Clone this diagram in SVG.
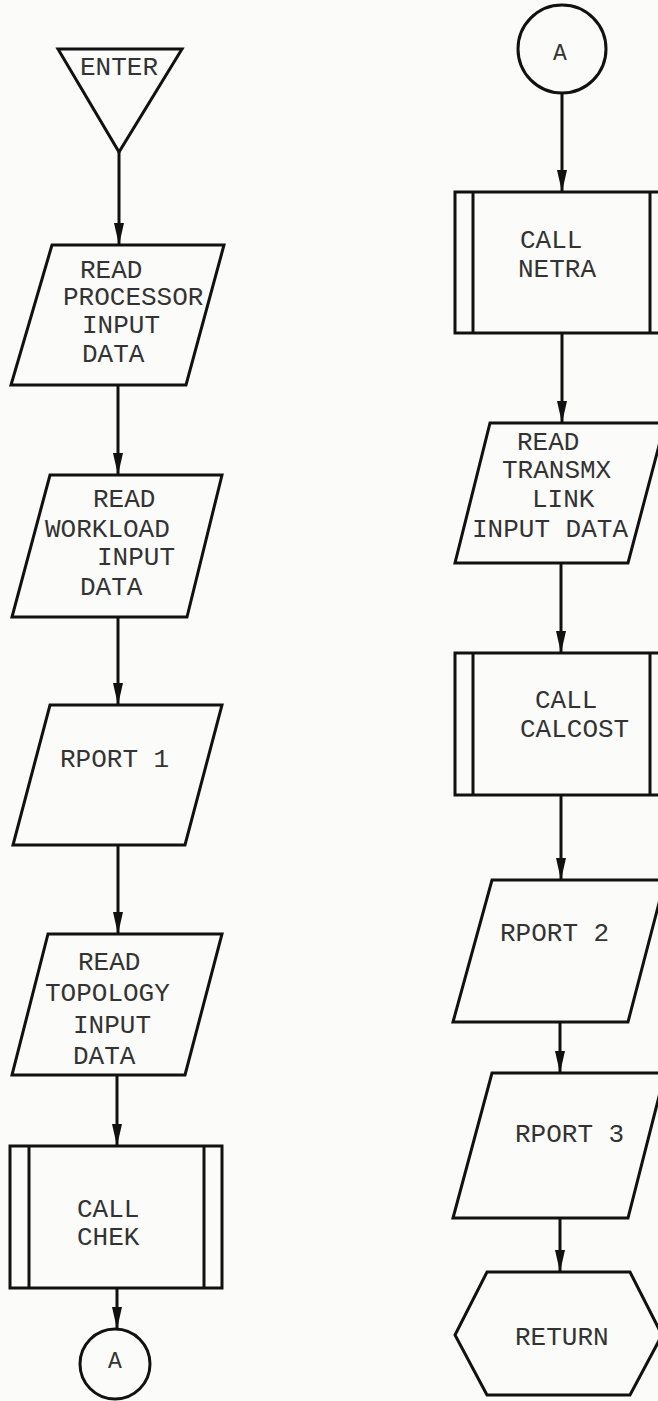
<svg xmlns="http://www.w3.org/2000/svg" width="658" height="1401" viewBox="0 0 658 1401">
  <defs>
    <style>
      .shape { fill: none; stroke: #111; stroke-width: 3; stroke-linejoin: miter; }
      .edge { fill: none; stroke: #111; stroke-width: 3; }
      .lbl { font-family: "Liberation Mono", "DejaVu Sans Mono", monospace; font-size: 26px; fill: #333; }
      .conn { font-family: "Liberation Mono", "DejaVu Sans Mono", monospace; font-size: 23px; fill: #333; text-anchor: middle; }
    </style>
    <marker id="arrow" viewBox="0 0 22 12" refX="22" refY="6" markerWidth="22" markerHeight="12" markerUnits="userSpaceOnUse" orient="auto">
      <path d="M0,1 L22,6 L0,11 z" fill="#111"/>
    </marker>
  </defs>

  <rect width="658" height="1401" fill="#fbfbf9"/>

  <!-- flow lines -->
  <g id="connectors">
    <line class="edge" x1="119" y1="152" x2="119" y2="245" marker-end="url(#arrow)"/>
    <line class="edge" x1="118" y1="385" x2="118" y2="475" marker-end="url(#arrow)"/>
    <line class="edge" x1="118" y1="617" x2="118" y2="705" marker-end="url(#arrow)"/>
    <line class="edge" x1="118" y1="845" x2="118" y2="934" marker-end="url(#arrow)"/>
    <line class="edge" x1="117" y1="1075" x2="117" y2="1146" marker-end="url(#arrow)"/>
    <line class="edge" x1="117" y1="1288" x2="117" y2="1329" marker-end="url(#arrow)"/>

    <line class="edge" x1="562" y1="93" x2="562" y2="192" marker-end="url(#arrow)"/>
    <line class="edge" x1="562" y1="333" x2="562" y2="423" marker-end="url(#arrow)"/>
    <line class="edge" x1="561" y1="563" x2="561" y2="653" marker-end="url(#arrow)"/>
    <line class="edge" x1="561" y1="795" x2="561" y2="880" marker-end="url(#arrow)"/>
    <line class="edge" x1="560" y1="1022" x2="560" y2="1073" marker-end="url(#arrow)"/>
    <line class="edge" x1="560" y1="1218" x2="560" y2="1272" marker-end="url(#arrow)"/>
  </g>

  <!-- left column -->
  <g id="enter">
    <polygon class="shape" points="58,49 182,49 119,152"/>
    <text class="lbl" x="80" y="75">ENTER</text>
  </g>

  <g id="read-processor">
    <polygon class="shape" points="52,245 224,245 186,385 11,385"/>
    <text class="lbl" x="80" y="278">READ</text>
    <text class="lbl" x="63" y="305">PROCESSOR</text>
    <text class="lbl" x="82" y="333">INPUT</text>
    <text class="lbl" x="82" y="362">DATA</text>
  </g>

  <g id="read-workload">
    <polygon class="shape" points="50,475 222,475 187,617 12,617"/>
    <text class="lbl" x="93" y="507">READ</text>
    <text class="lbl" x="45" y="537">WORKLOAD</text>
    <text class="lbl" x="97" y="565">INPUT</text>
    <text class="lbl" x="80" y="595">DATA</text>
  </g>

  <g id="rport1">
    <polygon class="shape" points="50,705 222,705 185,845 13,845"/>
    <text class="lbl" x="60" y="767">RPORT 1</text>
  </g>

  <g id="read-topology">
    <polygon class="shape" points="48,934 222,934 185,1075 12,1075"/>
    <text class="lbl" x="78" y="970">READ</text>
    <text class="lbl" x="45" y="1001">TOPOLOGY</text>
    <text class="lbl" x="73" y="1033">INPUT</text>
    <text class="lbl" x="73" y="1064">DATA</text>
  </g>

  <g id="call-chek">
    <rect class="shape" x="10" y="1146" width="212" height="142"/>
    <line class="shape" x1="29" y1="1146" x2="29" y2="1288"/>
    <line class="shape" x1="204" y1="1146" x2="204" y2="1288"/>
    <text class="lbl" x="77" y="1217">CALL</text>
    <text class="lbl" x="77" y="1245">CHEK</text>
  </g>

  <g id="connector-a-out">
    <circle class="shape" cx="115" cy="1364" r="35"/>
    <text class="conn" x="115" y="1368">A</text>
  </g>

  <!-- right column -->
  <g id="connector-a-in">
    <circle class="shape" cx="562" cy="49" r="44"/>
    <text class="conn" x="560" y="60">A</text>
  </g>

  <g id="call-netra">
    <rect class="shape" x="455" y="192" width="215" height="141"/>
    <line class="shape" x1="473" y1="192" x2="473" y2="333"/>
    <line class="shape" x1="650" y1="192" x2="650" y2="333"/>
    <text class="lbl" x="520" y="248">CALL</text>
    <text class="lbl" x="518" y="277">NETRA</text>
  </g>

  <g id="read-transmx">
    <polygon class="shape" points="490,423 665,423 628,563 455,563"/>
    <text class="lbl" x="517" y="450">READ</text>
    <text class="lbl" x="502" y="478">TRANSMX</text>
    <text class="lbl" x="532" y="507">LINK</text>
    <text class="lbl" x="472" y="537">INPUT DATA</text>
  </g>

  <g id="call-calcost">
    <rect class="shape" x="455" y="653" width="215" height="142"/>
    <line class="shape" x1="473" y1="653" x2="473" y2="795"/>
    <line class="shape" x1="650" y1="653" x2="650" y2="795"/>
    <text class="lbl" x="535" y="708">CALL</text>
    <text class="lbl" x="520" y="737">CALCOST</text>
  </g>

  <g id="rport2">
    <polygon class="shape" points="492,880 665,880 628,1022 453,1022"/>
    <text class="lbl" x="500" y="941">RPORT 2</text>
  </g>

  <g id="rport3">
    <polygon class="shape" points="492,1073 665,1073 628,1218 453,1218"/>
    <text class="lbl" x="515" y="1142">RPORT 3</text>
  </g>

  <g id="return">
    <polygon class="shape" points="487,1272 630,1272 662,1335 630,1395 487,1395 455,1335"/>
    <text class="lbl" x="515" y="1345">RETURN</text>
  </g>
</svg>
